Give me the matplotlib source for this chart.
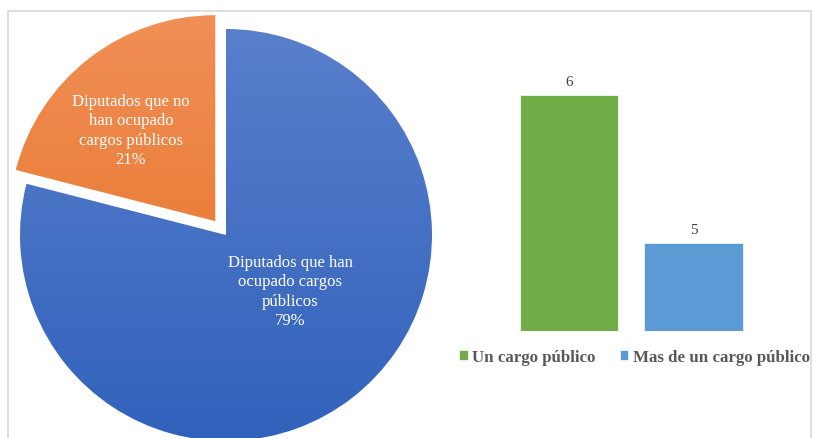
import numpy as np
import matplotlib
matplotlib.use('Agg')
import matplotlib.pyplot as plt
from matplotlib.colors import LinearSegmentedColormap
from matplotlib.patches import Rectangle

# Daten
pie_labels = ['Diputados que han\nocupado cargos\npúblicos',
              'Diputados que no\nhan ocupado\ncargos públicos']
pie_values = [79, 21]
bar_labels = ['Un cargo público', 'Mas de un cargo público']
bar_values = [6, 5]

plt.rcParams['font.family'] = ['Liberation Serif', 'DejaVu Serif']

W, H = 814, 439
fig = plt.figure(figsize=(W / 100, H / 100), dpi=100)

# Rahmen
fig.patches.append(Rectangle((8 / W, -0.1), (811 - 8) / W, (H - 12) / H + 0.1,
                             transform=fig.transFigure, fill=False,
                             edgecolor='#D9D9D9', linewidth=1.2))

# Tortendiagramm (Pixelkoordinaten)
ax = fig.add_axes([0, 0, 1, 1])
cx, cy, r = 226, H - 236, 206
wedges, _ = ax.pie(pie_values, center=(cx, cy), radius=r, startangle=90,
                   counterclock=False, explode=[0, 17.5], frame=True,
                   wedgeprops=dict(linewidth=0))
ax.set_xlim(0, W)
ax.set_ylim(0, H)
ax.set_aspect('auto')
ax.axis('off')

# Farbverlauf in den Segmenten
grads = [('#5C81CD', '#2E60BA'), ('#F19058', '#E46C1C')]
for w, (c_top, c_bot) in zip(wedges, grads):
    cmap = LinearSegmentedColormap.from_list('g', [c_bot, c_top])
    grad = np.linspace(0, 1, 256).reshape(-1, 1)
    im = ax.imshow(grad, cmap=cmap, origin='lower', aspect='auto',
                   extent=(cx - r - 30, cx + r + 30, cy - r - 30, cy + r + 30),
                   zorder=2)
    im.set_clip_path(w)
    w.set_facecolor('none')
ax.set_xlim(0, W)
ax.set_ylim(0, H)

# Beschriftungen im Kreis
ax.text(290, H - 292, pie_labels[0] + '\n' + f'{pie_values[0]}%', color='white',
        fontsize=12, ha='center', va='center', linespacing=1.28, zorder=3)
ax.text(131, H - 131, pie_labels[1] + '\n' + f'{pie_values[1]}%', color='white',
        fontsize=12, ha='center', va='center', linespacing=1.28, zorder=3)

# Balkendiagramm
bx0, bx1 = 444.5, 818
by0, by1 = H - 332, H - 70
bax = fig.add_axes([bx0 / W, by0 / H, (bx1 - bx0) / W, (by1 - by0) / H])
bars = bax.bar(range(len(bar_values)), bar_values, width=0.79,
               color=['#70AD47', '#5B9BD5'], edgecolor='white', linewidth=0.5)
bax.set_xlim(-1, 2)
bax.set_ylim(4.405, 6.176)
bax.axis('off')
for b, v in zip(bars, bar_values):
    bax.text(b.get_x() + b.get_width() / 2, v + 0.05, str(v), ha='center',
             va='bottom', fontsize=11, color='#404040')

leg = fig.legend(bars, bar_labels, loc='center', ncol=2,
                 bbox_to_anchor=(634.5 / W, (H - 358) / H), frameon=False,
                 prop={'weight': 'bold', 'size': 12.2}, handlelength=0.5,
                 handleheight=0.5, handletextpad=0.25, columnspacing=1.45)
for t in leg.get_texts():
    t.set_color('#595959')

fig.savefig('out.png', dpi=100)
